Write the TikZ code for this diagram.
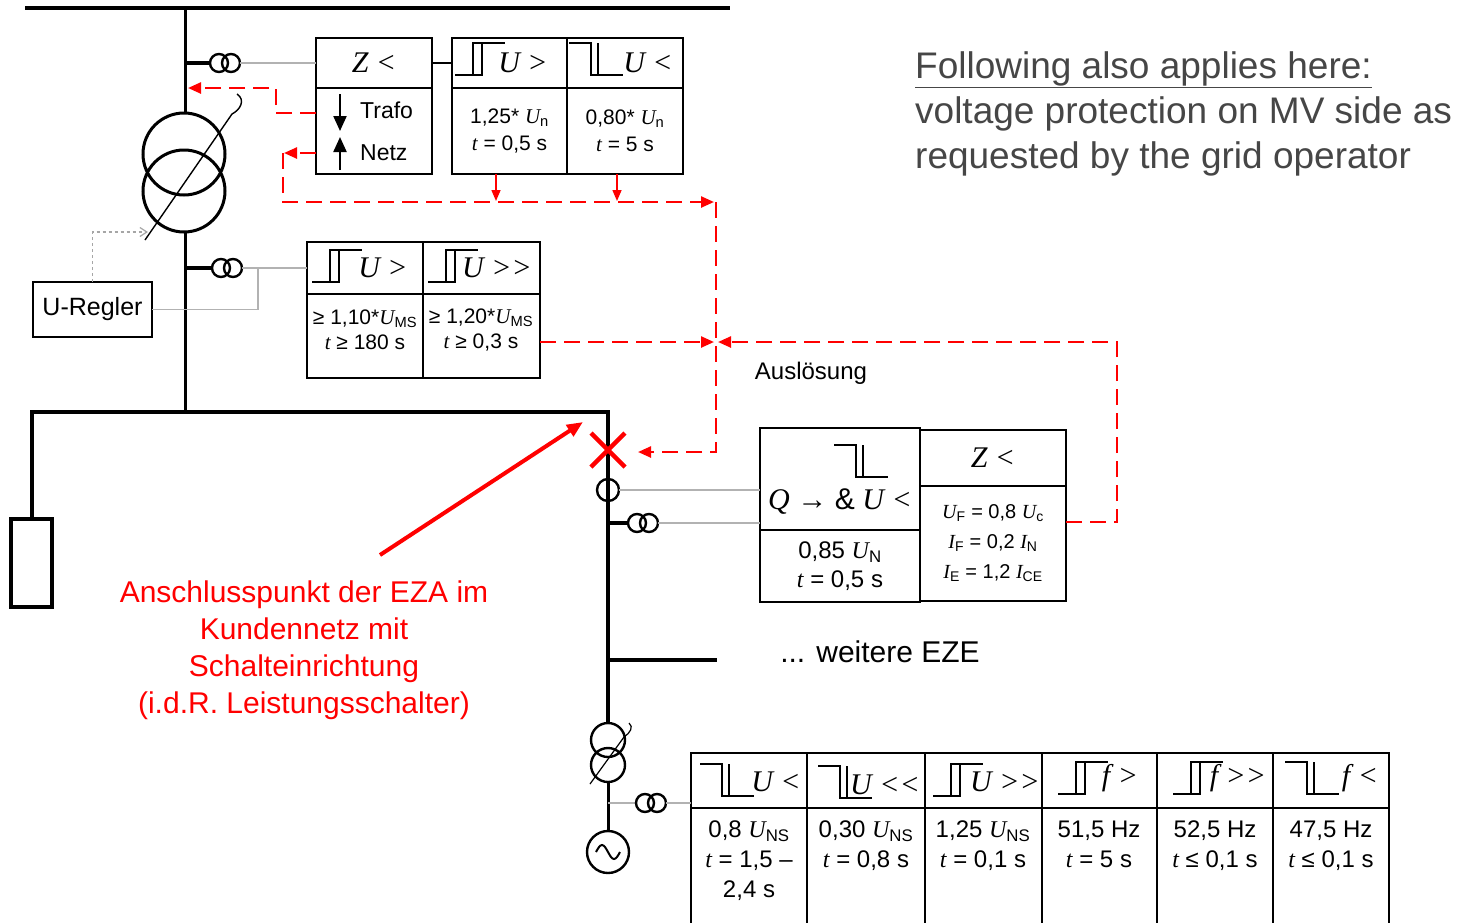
\documentclass[tikz,border=0pt]{standalone}
\usepackage{fontspec}
\setmainfont{Liberation Sans}
\newfontfamily\tms{Liberation Serif}
\usetikzlibrary{arrows.meta,positioning}
\definecolor{txtgray}{RGB}{70,70,70}
\newcommand{\sy}[1]{{\tms\itshape #1}}
\tikzset{
 bus/.style={line width=4pt},
 lead/.style={line width=3pt},
 sig/.style={gray!60,line width=1.4pt},
 trip/.style={red,line width=2.4pt,dash pattern=on 16pt off 8pt,-{Triangle[length=13pt,width=11pt]}},
 tripsolid/.style={red,line width=1.5pt,-{Triangle[length=11pt,width=9pt]}},
 relay/.style={draw,line width=2.3pt,anchor=north west,inner sep=0pt,outer sep=0pt},
 hdr/.style={inner sep=0pt,font=\tms\itshape\fontsize{30}{34}\selectfont},
 bdy/.style={inner sep=0pt,align=center},
 pics/rise/.style={code={\draw[line width=1.8pt] (0,16)--(27,16)--(27,-16) (18,16)--(18,-16)--(50,-16);}},
 pics/fall/.style={code={\draw[line width=1.8pt] (0,-16)--(22,-16)--(22,16)--(54,16) (29,-16)--(29,16);}},
 pics/ct/.style={code={\draw[line width=2.4pt] (-6,0) circle (9pt) (6,0) circle (9pt);}}
}
\begin{document}
\begin{tikzpicture}[x=1pt,y=-1pt]%EZA
\useasboundingbox (0,0) rectangle (1470,922);
\clip (0,0) rectangle (1470,922);
% relays
\node[relay,hdr,minimum width=116,minimum height=50] (zlh) at (316,38) {Z <};
\node[relay,minimum width=116,minimum height=86] (zlb) at (316,88) {};
\node[relay,minimum width=115,minimum height=50] (uoh) at (452,38) {};
\node[relay,bdy,minimum width=115,minimum height=86,font=\fontsize{21}{27}\selectfont] (uob) at (452,88) {1,25* \sy{U}\textsubscript{n}\\\sy{t} = 0,5 s};
\node[relay,minimum width=116,minimum height=50] (uuh) at (567,38) {};
\node[relay,bdy,minimum width=116,minimum height=86,font=\fontsize{21}{27}\selectfont] (uub) at (567,88) {0,80* \sy{U}\textsubscript{n}\\\sy{t} = 5 s};
\node[relay,minimum width=116,minimum height=52] (r1h) at (307,242) {};
\node[relay,minimum width=116,minimum height=84] (r1b) at (307,294) {};
\node[relay,minimum width=117,minimum height=52] (r2h) at (423,242) {};
\node[relay,minimum width=117,minimum height=84] (r2b) at (423,294) {};
\node[relay,minimum width=119,minimum height=55,font=\fontsize{25}{30}\selectfont] (reg) at (33,282) {U-Regler};
\node[relay,minimum width=160,minimum height=102] (qh) at (760,428) {};
\node[relay,bdy,minimum width=160,minimum height=72,font=\fontsize{24}{29}\selectfont] (qb) at (760,530) {0,85 \sy{U}\textsubscript{N}\\\sy{t} = 0,5 s};
\node[relay,hdr,minimum width=146,minimum height=56] (zrh) at (920,430) {Z <};
\node[relay,bdy,minimum width=146,minimum height=115,font=\fontsize{20}{30}\selectfont] (zrb) at (920,486) {\sy{U}\textsubscript{F} = 0,8 \sy{U}\textsubscript{c}\\\sy{I}\textsubscript{F} = 0,2 \sy{I}\textsubscript{N}\\\sy{I}\textsubscript{E} = 1,2 \sy{I}\textsubscript{CE}};
\foreach \x/\w/\n in {691/116/1,807/118/2,925/117/3,1042/115/4,1157/116/5,1273/116/6} {
 \node[relay,minimum width=\w,minimum height=55] (bh\n) at (\x,753) {};
 \node[relay,minimum width=\w,minimum height=125] (bb\n) at (\x,808) {};
}
% relay texts
\pic at (455,59) {rise}; \node[hdr] (uot) at (523,63) {U >};
\pic at (569,59) {fall}; \node[hdr] (uut) at (648,63) {U <};
\pic at (312,266) {rise}; \node[hdr] (r1t) at (383,268) {U >};
\pic at (428,266) {rise}; \node[hdr] (r2t) at (497,268) {U >>};
\pic at (834,461) {fall}; \node[hdr] (qt) at (840,502) {Q → {\rmfamily\upshape\&} U <};
\node[bdy,font=\fontsize{21}{25}\selectfont] (r1v) at (365,330) {≥ 1,10*\sy{U}\textsubscript{MS}\\\sy{t} ≥ 180 s};
\node[bdy,font=\fontsize{21}{25}\selectfont] (r2v) at (481,330) {≥ 1,20*\sy{U}\textsubscript{MS}\\\sy{t} ≥ 0,3 s};
\node[font=\fontsize{23}{28}\selectfont,anchor=west,inner sep=0pt] (trafo) at (360,110) {Trafo};
\node[font=\fontsize{23}{28}\selectfont,anchor=west,inner sep=0pt] (netz) at (360,153) {Netz};
\draw[line width=2.2pt,-{Triangle[length=15pt,width=13pt]}] (340,94) -- (340,131);
\draw[line width=2.2pt,-{Triangle[length=15pt,width=13pt]}] (340,170) -- (340,137);
\pic at (700,780) {fall}; \node[hdr] (bt1) at (776,782) {U <};
\pic at (818,782) {fall}; \node[hdr] (bt2) at (885,785) {U <<};
\pic at (933,780) {rise}; \node[hdr] (bt3) at (1005,782) {U >>};
\pic at (1058,778) {rise}; \node[hdr] (bt4) at (1120,778) {f >};
\pic at (1173,778) {rise}; \node[hdr] (bt5) at (1238,778) {f >>};
\pic at (1285,778) {fall}; \node[hdr] (bt6) at (1360,778) {f <};
\tikzset{bv/.style={bdy,anchor=north,font=\fontsize{24}{30}\selectfont}}
\node[bv] (bv1) at (749,821) {0,8 \sy{U}\textsubscript{NS}\\\sy{t} = 1,5 –\\2,4 s};
\node[bv] (bv2) at (866,821) {0,30 \sy{U}\textsubscript{NS}\\\sy{t} = 0,8 s};
\node[bv] (bv3) at (983,821) {1,25 \sy{U}\textsubscript{NS}\\\sy{t} = 0,1 s};
\node[bv] (bv4) at (1099,821) {51,5 Hz\\\sy{t} = 5 s};
\node[bv] (bv5) at (1215,821) {52,5 Hz\\\sy{t} ≤ 0,1 s};
\node[bv] (bv6) at (1331,821) {47,5 Hz\\\sy{t} ≤ 0,1 s};
% grid
\draw[bus] (25,8) -- (730,8);
\draw[lead] (185,8) -- (185,113) (185,233) -- (185,412);
\draw[lead] (184,154) circle (41pt) (184,191) circle (41pt);
\draw[line width=1.4pt] (145,240) -- (232,114) .. controls (240,110) and (246,100) .. (237,94);
\draw[bus] (185,63) -- (210,63); \pic at (225,63) {ct};
\draw[sig] (240,63) -- (zlh.west);
\draw[line width=2pt] (zlh.east) -- (uoh.west);
\draw[bus] (185,268) -- (212,268); \pic at (227,268) {ct};
\draw[sig] (242,268) -- (r1h.west);
\draw[sig] (258,268) |- (reg.east);
\draw[gray!70,line width=1.2pt,dashed,-{Straight Barb[length=7pt,width=9pt]}] (reg.north) |- (148,232);
\node[draw,line width=3.5pt,minimum width=41,minimum height=88,inner sep=0pt] (load) at (31.5,563) {};
\draw[bus] (load.north) |- (608,412) -- (608,723);
\draw[line width=2.4pt] (608,490) circle (11pt);
\draw[sig] (619,490) -- (qh.west |- 0,490);
\draw[bus] (608,523) -- (628,523); \pic at (643,523) {ct};
\draw[sig] (658,523) -- (qh.west |- 0,523);
\draw[bus] (608,660) -- (717,660);
\draw[line width=2.4pt] (608,740) circle (17pt) (608,765) circle (17pt);
\draw[line width=1.2pt] (590,784) -- (624,737) .. controls (630,733) and (634,727) .. (629,723);
\draw[lead] (608,782) -- (608,831);
\draw[sig] (608,803) -- (636,803); \pic at (651,803) {ct};
\draw[sig] (666,803) -- (bh1.west |- 0,803);
\draw[line width=2.4pt] (608,852) circle (21pt);
\draw[line width=2pt] (596,852) sin (602,845) cos (608,852) sin (614,859) cos (620,852);
% trips
\draw[red,line width=4.5pt] (591,433) -- (625,467) (591,467) -- (625,433);
\coordinate (ap) at (380,555);
\coordinate (cb) at (583,422);
\draw[red,line width=4pt,-{Triangle[length=16pt,width=13pt]}] (ap) -- (cb);
\draw[trip] (zlb.west |- 0,113) -- (276,113) -- (276,88) -- (188,88);
\draw[trip] (zlb.west |- 0,153) -- (284,153);
\draw[trip] (283,153) -- (283,202) -- (714,202);
\draw[tripsolid] ([xshift=44pt]uob.south west) -- ++(0,27);
\draw[tripsolid] ([xshift=50pt]uub.south west) -- ++(0,27);
\draw[trip] (716,202) -- (716,452) -- (638,452);
\draw[trip] (r2b.east |- 0,342) -- (714,342);
\draw[trip] (zrb.east |- 0,522) -- (1117,522) -- (1117,342) -- (718,342);
% labels
\node[font=\fontsize{24}{29}\selectfont] (ausl) at (811,373) {Auslösung};
\node[font=\fontsize{30}{36}\selectfont] (eze) at (880,652) {... weitere EZE};
\node[align=center,text=red,font=\fontsize{30}{37}\selectfont] (eza) at (304,650) {Anschlusspunkt der EZA im\\Kundennetz mit\\Schalteinrichtung\\(i.d.R. Leistungsschalter)};
\node[align=left,text=txtgray,anchor=west,inner sep=0pt,font=\fontsize{37}{45}\selectfont] (note) at (915,114) {\underline{Following also applies here:}\\voltage protection on MV side as\\requested by the grid operator};
\end{tikzpicture}
\end{document}
